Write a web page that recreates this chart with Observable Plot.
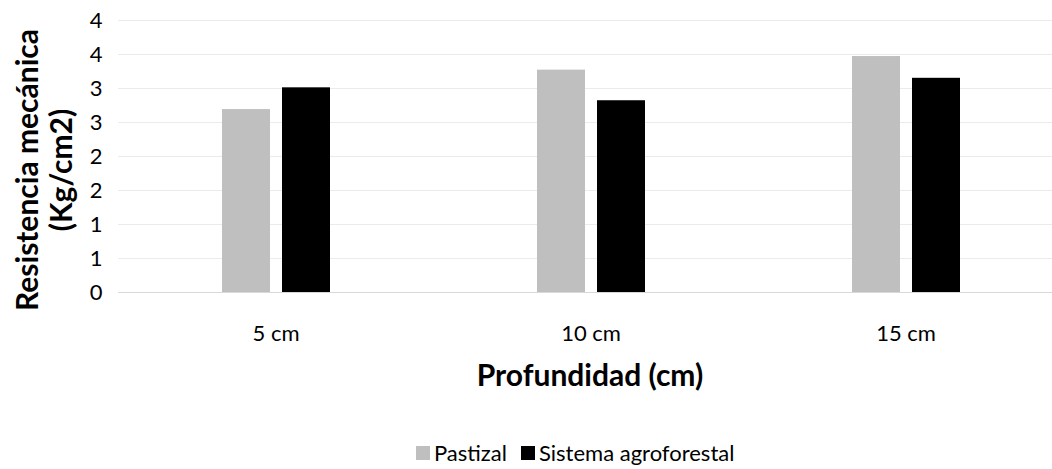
<!DOCTYPE html>
<html><head><meta charset="utf-8">
<script src="https://cdn.jsdelivr.net/npm/d3@7"></script>
<script src="https://cdn.jsdelivr.net/npm/@observablehq/plot@0.6"></script>
<style>
body{margin:0;background:#fff;}
#wrap{position:relative;width:1052px;height:469px;overflow:hidden;font-family:Lato, sans-serif;color:#000;}
#chart{position:absolute;left:0;top:0;}
.ytitle{position:absolute;left:43px;top:170px;transform:translate(-50%,-50%) rotate(-90deg);white-space:pre;text-align:center;font-weight:bold;font-size:30px;line-height:34px;}
.xtitle{position:absolute;left:590px;top:374px;transform:translate(-50%,-50%);white-space:pre;font-weight:bold;font-size:30px;}
#legend{position:absolute;left:416px;top:439px;display:flex;align-items:center;font-size:22px;}
#legend .item{display:flex;align-items:center;margin-right:14px;}
#legend .sw{width:14px;height:14px;margin-right:4px;}
</style></head><body>
<div id="wrap"><div id="chart"></div>
<div class="ytitle">Resistencia mecánica
(Kg/cm2)</div>
<div class="xtitle">Profundidad (cm)</div>
<div id="legend"></div>
</div>
<script>
const categories = ["5 cm","10 cm","15 cm"];
const seriesNames = ["Pastizal","Sistema agroforestal"];
const pastizal = [2.69, 3.27, 3.47];
const sistema = [3.01, 2.82, 3.15];
const yTicks = [0, 0.5, 1, 1.5, 2, 2.5, 3, 3.5, 4];
const yTickLabels = ["0","1","1","2","2","3","3","4","4"];
const colors = ["#bfbfbf", "#000000"];

const data = categories.flatMap((c, i) => [
  {cat: c, series: seriesNames[0], value: pastizal[i]},
  {cat: c, series: seriesNames[1], value: sistema[i]}
]);

const plot = Plot.plot({
  width: 1052, height: 400,
  marginLeft: 117, marginRight: -12, marginTop: 20, marginBottom: 108,
  style: {fontFamily: "Lato, sans-serif", fontSize: "22px", color: "#000", background: "white"},
  fx: {domain: categories, padding: 0, label: null},
  x: {domain: seriesNames, paddingInner: 0.2, paddingOuter: 1.7, axis: null},
  y: {domain: [0, 4], axis: null},
  color: {domain: seriesNames, range: colors},
  marks: [
    Plot.ruleY(yTicks.slice(1), {stroke: "#ebebeb", strokeWidth: 1}),
    Plot.ruleY([0], {stroke: "#d9d9d9", strokeWidth: 1}),
    Plot.barY(data, {fx: "cat", x: "series", y: "value", fill: "series"}),
    Plot.axisY({ticks: yTicks, tickFormat: d => yTickLabels[yTicks.indexOf(d)], tickSize: 0, tickPadding: 16, label: null, fontSize: 22}),
    Plot.axisFx({anchor: "bottom", tickSize: 0, tickPadding: 33, label: null, fontSize: 22})
  ]
});
document.getElementById("chart").appendChild(plot);

const legend = document.getElementById("legend");
seriesNames.forEach((s, i) => {
  const it = document.createElement("div");
  it.className = "item";
  const sw = document.createElement("div");
  sw.className = "sw";
  sw.style.background = colors[i];
  const t = document.createElement("span");
  t.textContent = s;
  it.appendChild(sw); it.appendChild(t);
  legend.appendChild(it);
});
</script>
</body></html>
